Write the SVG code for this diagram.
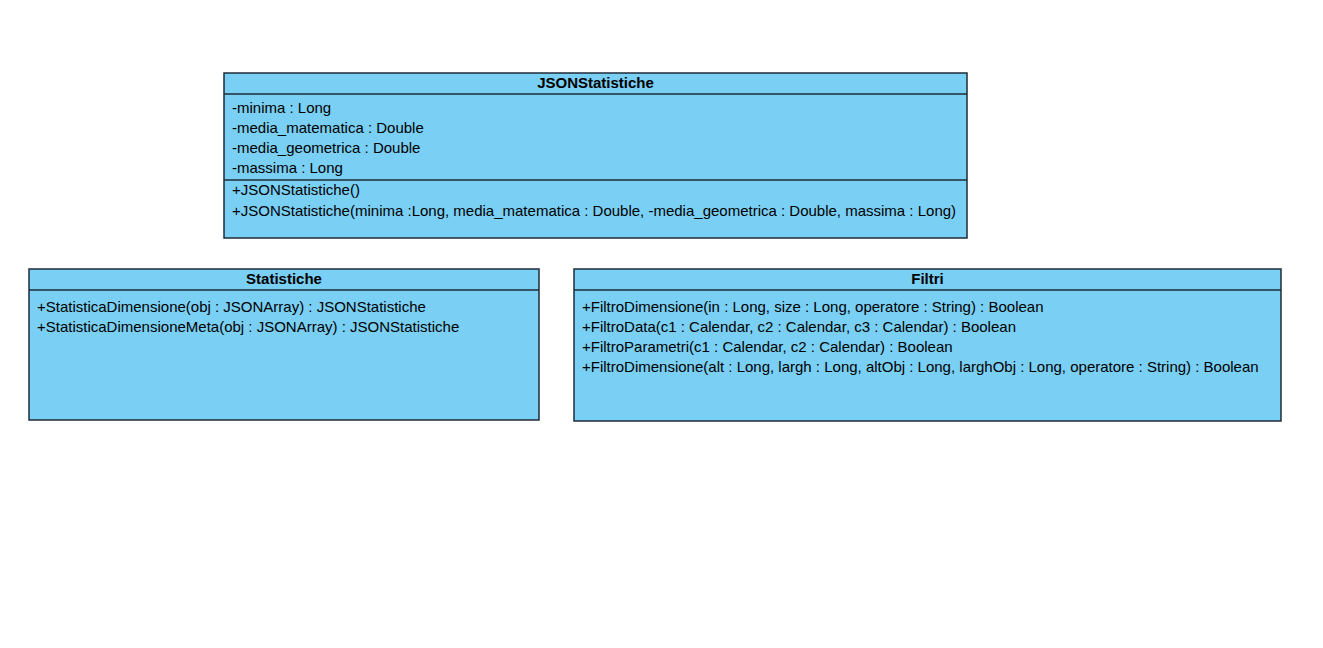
<svg xmlns="http://www.w3.org/2000/svg" width="1323" height="648" viewBox="0 0 1323 648">
<style>
.box{fill:#7acff4;stroke:#1f2d38;stroke-width:1.5}
.ln{stroke:#1f2d38;stroke-width:1.5}
text{font-family:"Liberation Sans",Arial,sans-serif;font-size:15px;fill:#000}
.t{font-weight:bold;text-anchor:middle}
</style>
<rect width="1323" height="648" fill="#fff"/>
<g id="JSONStatistiche">
<rect class="box" x="224" y="73" width="743" height="165"/>
<line class="ln" x1="224" y1="94" x2="967" y2="94"/>
<line class="ln" x1="224" y1="180" x2="967" y2="180"/>
<text class="t" x="595.5" y="88">JSONStatistiche</text>
<text x="232" y="113">-minima : Long</text>
<text x="232" y="133">-media_matematica : Double</text>
<text x="232" y="153">-media_geometrica : Double</text>
<text x="232" y="173">-massima : Long</text>
<text x="232" y="195">+JSONStatistiche()</text>
<text x="232" y="216">+JSONStatistiche(minima :Long, media_matematica : Double, -media_geometrica : Double, massima : Long)</text>
</g>
<g id="Statistiche">
<rect class="box" x="29" y="269" width="510" height="151"/>
<line class="ln" x1="29" y1="290" x2="539" y2="290"/>
<text class="t" x="284" y="284">Statistiche</text>
<text x="37" y="312">+StatisticaDimensione(obj : JSONArray) : JSONStatistiche</text>
<text x="37" y="332">+StatisticaDimensioneMeta(obj : JSONArray) : JSONStatistiche</text>
</g>
<g id="Filtri">
<rect class="box" x="574" y="269" width="707" height="152"/>
<line class="ln" x1="574" y1="290" x2="1281" y2="290"/>
<text class="t" x="927.5" y="284">Filtri</text>
<text x="582" y="312">+FiltroDimensione(in : Long, size : Long, operatore : String) : Boolean</text>
<text x="582" y="332">+FiltroData(c1 : Calendar, c2 : Calendar, c3 : Calendar) : Boolean</text>
<text x="582" y="352">+FiltroParametri(c1 : Calendar, c2 : Calendar) : Boolean</text>
<text x="582" y="372">+FiltroDimensione(alt : Long, largh : Long, altObj : Long, larghObj : Long, operatore : String) : Boolean</text>
</g>
<g id="connectors"></g>
</svg>
